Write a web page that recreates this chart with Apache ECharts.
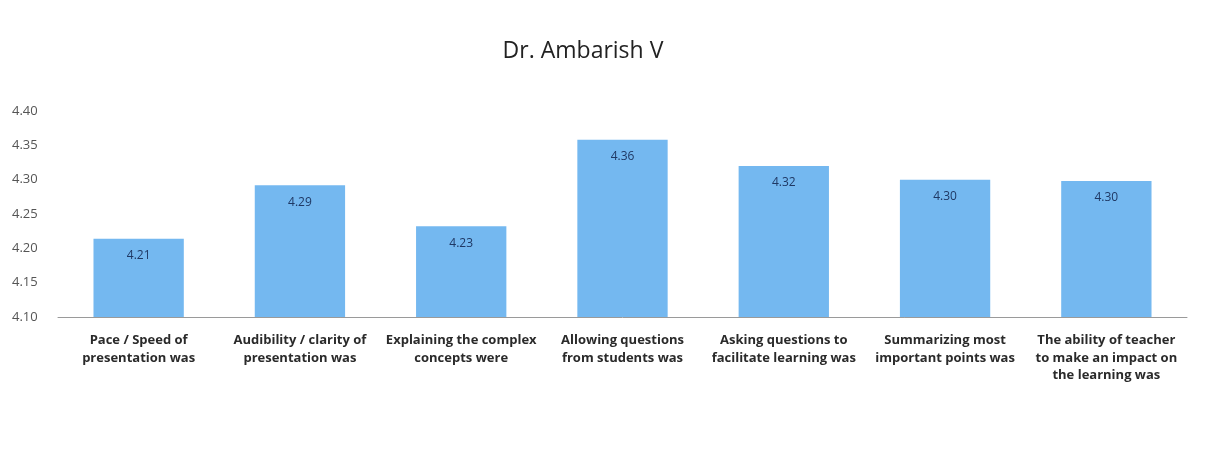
<!DOCTYPE html>
<html>
<head>
<meta charset="utf-8">
<script src="https://cdn.jsdelivr.net/npm/echarts@6/dist/echarts.min.js"></script>
<style>
  html, body { margin: 0; padding: 0; background: #fff; }
  #chart { width: 1205px; height: 474px; }
</style>
</head>
<body>
<div id="chart"></div>
<script>
// Feedback questions (x axis)
const categories = [
  'Pace / Speed of\npresentation was',
  'Audibility / clarity of\npresentation was',
  'Explaining the complex\nconcepts were',
  'Allowing questions\nfrom students was',
  'Asking questions to\nfacilitate learning was',
  'Summarizing most\nimportant points was',
  'The ability of teacher\nto make an impact on\nthe learning was'
]

// Average scores
const scores = [4.214, 4.292, 4.232, 4.358, 4.320, 4.300, 4.298]

// Y axis range
const yMin = 4.10
const yMax = 4.40
const yStep = 0.05

const chart = echarts.init(document.getElementById('chart'))

chart.setOption({
  backgroundColor: '#ffffff',
  animation: false,
  title: {
    text: 'Dr. Ambarish V',
    left: 578,
    top: 35,
    textAlign: 'center',
    textStyle: {
      fontFamily: 'Open Sans',
      fontSize: 23,
      fontWeight: 'normal',
      color: '#222'
    }
  },
  grid: {
    left: 58,
    right: 18,
    top: 111,
    bottom: 157
  },
  xAxis: {
    type: 'category',
    data: categories,
    axisLine: { lineStyle: { color: '#9a9a9a', width: 1 } },
    axisTick: { show: false },
    axisLabel: {
      interval: 0,
      margin: 15,
      fontFamily: 'Open Sans',
      fontSize: 13,
      fontWeight: 'bold',
      lineHeight: 17.5,
      color: '#2a2a2a'
    }
  },
  yAxis: {
    type: 'value',
    min: yMin,
    max: yMax,
    interval: yStep,
    axisLine: { show: false },
    axisTick: { show: false },
    splitLine: { show: false },
    axisLabel: {
      margin: 46,
      align: 'left',
      fontFamily: 'Open Sans',
      fontSize: 13,
      color: '#555',
      formatter: v => v.toFixed(2)
    }
  },
  series: [
    {
      name: 'Score',
      type: 'bar',
      data: scores,
      barWidth: '56%',
      itemStyle: { color: '#74b8f0' },
      label: {
        show: true,
        position: 'insideTop',
        distance: 11,
        fontFamily: 'Open Sans',
        fontSize: 12,
        color: '#1f3864',
        formatter: p => p.value.toFixed(2)
      }
    }
  ]
})
</script>
</body>
</html>
